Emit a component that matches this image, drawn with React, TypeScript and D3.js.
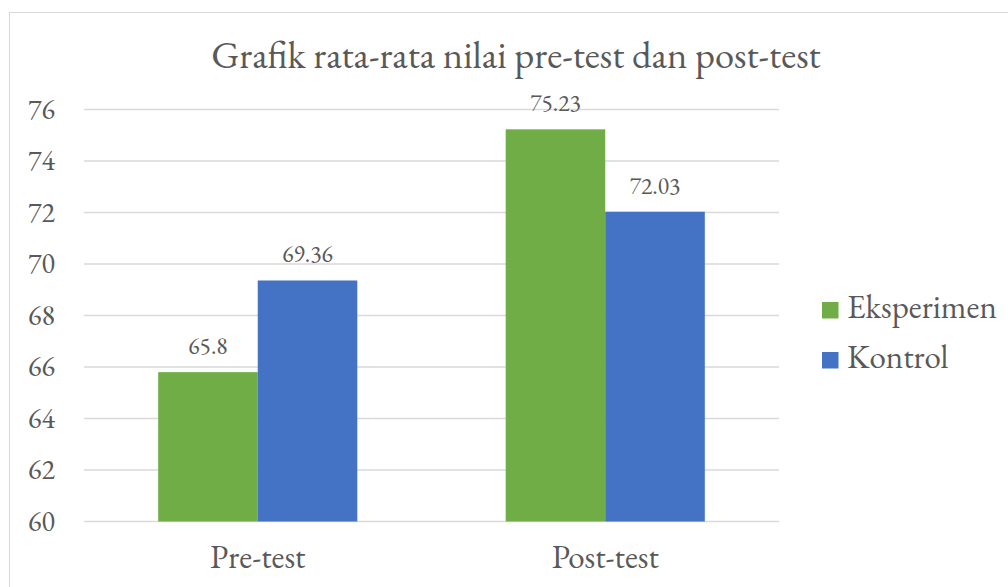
import React from "react";
import * as d3 from "d3";

const categories = ["Pre-test", "Post-test"];
const seriesNames = ["Eksperimen", "Kontrol"];
const eksperimen = [65.8, 75.23];
const kontrol = [69.36, 72.03];
const yTicks = [60, 62, 64, 66, 68, 70, 72, 74, 76];
const colors = ["#70AD47", "#4472C4"];
const title = "Grafik rata-rata nilai pre-test dan post-test";

const W = 1008;
const H = 587;
const FONT = "EB Garamond";
const TXT = "#595959";

export default function App() {
  const left = 84, right = 779, top = 109.5, bottom = 521.5;
  const x = d3.scaleBand<string>().domain(categories).range([left, right]).paddingInner(0.427).paddingOuter(0.2135);
  const x1 = d3.scaleBand<string>().domain(seriesNames).range([0, x.bandwidth()]);
  const y = d3.scaleLinear().domain([60, 76]).range([bottom, top]);
  const values = [eksperimen, kontrol];

  return (
    <svg width={W} height={H} style={{ position: "absolute", left: 0, top: 0, background: "#fff" }}>
      <rect x={9.5} y={12.5} width={W} height={H} fill="#fff" stroke="#D9D9D9" strokeWidth={1} />
      <text x={516} y={68} textAnchor="middle" fontFamily={FONT} fontSize={38.5} fill={TXT}>{title}</text>
      {yTicks.map((t) => (
        <g key={t}>
          <line x1={left} x2={right} y1={y(t)} y2={y(t)} stroke="#D9D9D9" strokeWidth={1.3} />
          <text x={55} y={y(t)} dy="0.33em" textAnchor="end" fontFamily={FONT} fontSize={28} fill={TXT}>{t}</text>
        </g>
      ))}
      {categories.map((c, ci) => (
        <g key={c}>
          {seriesNames.map((s, si) => {
            const v = values[si][ci];
            const bx = (x(c) as number) + (x1(s) as number);
            return (
              <g key={s}>
                <rect x={bx} y={y(v)} width={x1.bandwidth()} height={y(60) - y(v)} fill={colors[si]} />
                <text x={bx + x1.bandwidth() / 2} y={y(v) - 18} textAnchor="middle" fontFamily={FONT} fontSize={23.5} fill={TXT}>{v}</text>
              </g>
            );
          })}
          <text x={(x(c) as number) + x.bandwidth() / 2} y={568} textAnchor="middle" fontFamily={FONT} fontSize={33} fill={TXT}>{c}</text>
        </g>
      ))}
      {seriesNames.map((s, si) => (
        <g key={s}>
          <rect x={822} y={302 + si * 50} width={16.5} height={16.5} fill={colors[si]} />
          <text x={847} y={318 + si * 50} fontFamily={FONT} fontSize={33} fill={TXT}>{s}</text>
        </g>
      ))}
    </svg>
  );
}
